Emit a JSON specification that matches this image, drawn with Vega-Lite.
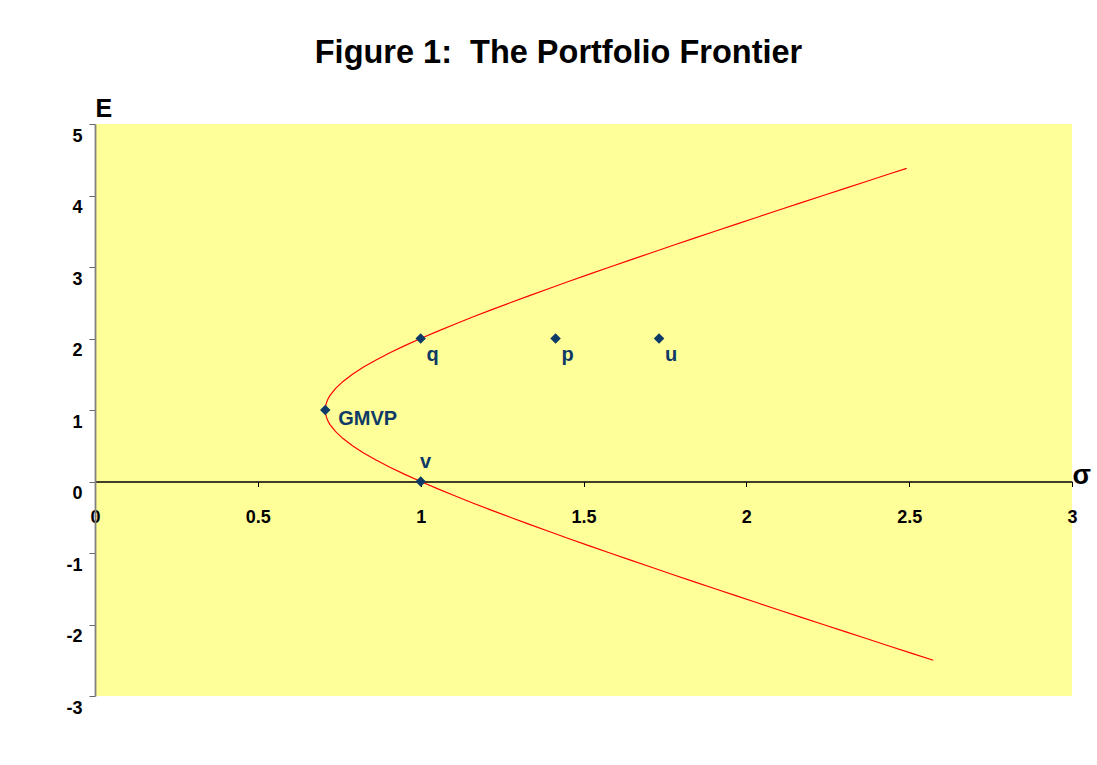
{
  "$schema": "https://vega.github.io/schema/vega-lite/v6.json",
  "width": 977,
  "height": 572,
  "autosize": {"type": "none"},
  "padding": {"left": 95, "top": 124, "right": 25, "bottom": 69},
  "background": "white",
  "title": {
    "text": "Figure 1:\u00a0 The Portfolio Frontier",
    "font": "Liberation Sans",
    "fontSize": 32.5,
    "fontWeight": "bold",
    "color": "black",
    "anchor": "middle",
    "frame": "group",
    "dx": -25,
    "offset": 27
  },
  "config": {
    "view": {"fill": "#FFFF99", "stroke": null},
    "font": "Liberation Sans",
    "locale": {"number": {"decimal": ".", "thousands": ",", "grouping": [3], "currency": ["$", ""], "minus": "-"}}
  },
  "datasets": {
    "frontier": [
      {"E": -2.5, "sigma": 2.5739}, {"E": -2.4, "sigma": 2.5060}, {"E": -2.3, "sigma": 2.4382},
      {"E": -2.2, "sigma": 2.3707}, {"E": -2.1, "sigma": 2.3033}, {"E": -2.0, "sigma": 2.2361},
      {"E": -1.9, "sigma": 2.1691}, {"E": -1.8, "sigma": 2.1024}, {"E": -1.7, "sigma": 2.0359},
      {"E": -1.6, "sigma": 1.9698}, {"E": -1.5, "sigma": 1.9039}, {"E": -1.4, "sigma": 1.8385},
      {"E": -1.3, "sigma": 1.7734}, {"E": -1.2, "sigma": 1.7088}, {"E": -1.1, "sigma": 1.6447},
      {"E": -1.0, "sigma": 1.5811}, {"E": -0.9, "sigma": 1.5182}, {"E": -0.8, "sigma": 1.4560},
      {"E": -0.7, "sigma": 1.3946}, {"E": -0.6, "sigma": 1.3342}, {"E": -0.5, "sigma": 1.2748},
      {"E": -0.4, "sigma": 1.2166}, {"E": -0.3, "sigma": 1.1597}, {"E": -0.2, "sigma": 1.1045},
      {"E": -0.1, "sigma": 1.0512}, {"E": 0.0, "sigma": 1.0}, {"E": 0.1, "sigma": 0.9513},
      {"E": 0.2, "sigma": 0.9055}, {"E": 0.3, "sigma": 0.8631}, {"E": 0.4, "sigma": 0.8246},
      {"E": 0.5, "sigma": 0.7906}, {"E": 0.6, "sigma": 0.7616}, {"E": 0.7, "sigma": 0.7382},
      {"E": 0.8, "sigma": 0.7211}, {"E": 0.85, "sigma": 0.7150}, {"E": 0.9, "sigma": 0.7106},
      {"E": 0.95, "sigma": 0.7080}, {"E": 1.0, "sigma": 0.7071}, {"E": 1.05, "sigma": 0.7080},
      {"E": 1.1, "sigma": 0.7106}, {"E": 1.15, "sigma": 0.7150}, {"E": 1.2, "sigma": 0.7211},
      {"E": 1.3, "sigma": 0.7382}, {"E": 1.4, "sigma": 0.7616}, {"E": 1.5, "sigma": 0.7906},
      {"E": 1.6, "sigma": 0.8246}, {"E": 1.7, "sigma": 0.8631}, {"E": 1.8, "sigma": 0.9055},
      {"E": 1.9, "sigma": 0.9513}, {"E": 2.0, "sigma": 1.0}, {"E": 2.1, "sigma": 1.0512},
      {"E": 2.2, "sigma": 1.1045}, {"E": 2.3, "sigma": 1.1597}, {"E": 2.4, "sigma": 1.2166},
      {"E": 2.5, "sigma": 1.2748}, {"E": 2.6, "sigma": 1.3342}, {"E": 2.7, "sigma": 1.3946},
      {"E": 2.8, "sigma": 1.4560}, {"E": 2.9, "sigma": 1.5182}, {"E": 3.0, "sigma": 1.5811},
      {"E": 3.1, "sigma": 1.6447}, {"E": 3.2, "sigma": 1.7088}, {"E": 3.3, "sigma": 1.7734},
      {"E": 3.4, "sigma": 1.8385}, {"E": 3.5, "sigma": 1.9039}, {"E": 3.6, "sigma": 1.9698},
      {"E": 3.7, "sigma": 2.0359}, {"E": 3.8, "sigma": 2.1024}, {"E": 3.9, "sigma": 2.1691},
      {"E": 4.0, "sigma": 2.2361}, {"E": 4.1, "sigma": 2.3033}, {"E": 4.2, "sigma": 2.3707},
      {"E": 4.3, "sigma": 2.4382}, {"E": 4.38, "sigma": 2.4924}
    ],
    "points": [
      {"name": "GMVP", "sigma": 0.7071, "E": 1},
      {"name": "q", "sigma": 1.0, "E": 2},
      {"name": "p", "sigma": 1.4142, "E": 2},
      {"name": "u", "sigma": 1.7321, "E": 2},
      {"name": "v", "sigma": 1.0, "E": 0}
    ]
  },
  "layer": [
    {
      "data": {"name": "frontier"},
      "mark": {"type": "line", "color": "#FF0000", "strokeWidth": 1.2},
      "encoding": {
        "x": {
          "field": "sigma", "type": "quantitative",
          "scale": {"domain": [0, 3], "nice": false, "zero": false},
          "axis": {
            "values": [0, 0.5, 1, 1.5, 2, 2.5, 3],
            "format": "~g",
            "offset": -214.5,
            "grid": false,
            "domainColor": "black",
            "domainWidth": 1.3,
            "tickColor": "black",
            "tickSize": 5,
            "tickWidth": 1,
            "labelFont": "Liberation Sans",
            "labelFontSize": 18,
            "labelFontWeight": "bold",
            "labelColor": "black",
            "labelBaseline": "top",
            "labelPadding": 22,
            "labelFlush": false,
            "title": "σ",
            "titleFont": "Liberation Sans",
            "titleFontSize": 27,
            "titleFontWeight": "bold",
            "titleColor": "black",
            "titleX": 977,
            "titleY": 2,
            "titleAlign": "left",
            "titleBaseline": "alphabetic",
            "titleAnchor": "end"
          }
        },
        "y": {
          "field": "E", "type": "quantitative",
          "scale": {"domain": [-3, 5], "nice": false, "zero": false},
          "axis": {
            "values": [-3, -2, -1, 0, 1, 2, 3, 4, 5],
            "format": "~g",
            "grid": false,
            "domainColor": "#808080",
            "domainWidth": 1.8,
            "tickColor": "#666666",
            "tickSize": 6,
            "tickWidth": 1,
            "labelFont": "Liberation Sans",
            "labelFontSize": 18,
            "labelFontWeight": "bold",
            "labelColor": "black",
            "labelBaseline": "top",
            "labelOffset": 3,
            "labelPadding": 7,
            "labelFlush": false,
            "title": "E",
            "titleFont": "Liberation Sans",
            "titleFontSize": 25,
            "titleFontWeight": "bold",
            "titleColor": "black",
            "titleAngle": 0,
            "titleX": 0,
            "titleY": -8,
            "titleAlign": "left",
            "titleBaseline": "alphabetic"
          }
        },
        "order": {"field": "E", "type": "quantitative"}
      }
    },
    {
      "data": {"name": "points"},
      "mark": {"type": "point", "shape": "diamond", "filled": true, "size": 110, "color": "#0D3A66", "opacity": 1},
      "encoding": {
        "x": {"field": "sigma", "type": "quantitative"},
        "y": {"field": "E", "type": "quantitative"}
      }
    },
    {
      "data": {"name": "points"},
      "transform": [{"filter": "datum.name == 'q' || datum.name == 'p' || datum.name == 'u'"}],
      "mark": {"type": "text", "font": "Liberation Sans", "fontSize": 20, "fontWeight": "bold", "color": "#0D3A66", "align": "center", "baseline": "middle", "dx": 12, "dy": 16},
      "encoding": {
        "x": {"field": "sigma", "type": "quantitative"},
        "y": {"field": "E", "type": "quantitative"},
        "text": {"field": "name"}
      }
    },
    {
      "data": {"name": "points"},
      "transform": [{"filter": "datum.name == 'GMVP'"}],
      "mark": {"type": "text", "font": "Liberation Sans", "fontSize": 20, "fontWeight": "bold", "color": "#0D3A66", "align": "left", "baseline": "middle", "dx": 13, "dy": 9},
      "encoding": {
        "x": {"field": "sigma", "type": "quantitative"},
        "y": {"field": "E", "type": "quantitative"},
        "text": {"field": "name"}
      }
    },
    {
      "data": {"name": "points"},
      "transform": [{"filter": "datum.name == 'v'"}],
      "mark": {"type": "text", "font": "Liberation Sans", "fontSize": 20, "fontWeight": "bold", "color": "#0D3A66", "align": "center", "baseline": "middle", "dx": 5, "dy": -20},
      "encoding": {
        "x": {"field": "sigma", "type": "quantitative"},
        "y": {"field": "E", "type": "quantitative"},
        "text": {"field": "name"}
      }
    }
  ]
}
